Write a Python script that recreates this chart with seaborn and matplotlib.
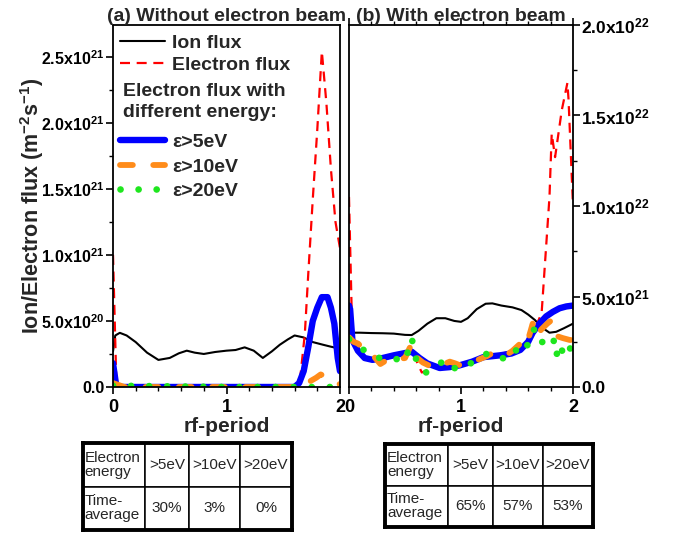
import numpy as np
import matplotlib
matplotlib.use("Agg")
import matplotlib.pyplot as plt
from matplotlib.lines import Line2D
from matplotlib.ticker import MultipleLocator, FixedLocator, FixedFormatter
import seaborn as sns

# (a) without electron beam -- values in units of 1e20 m^-2 s^-1
UNIT_A = 1e20
ion_a_x = [0.0, 0.02, 0.06, 0.12, 0.2, 0.3, 0.4, 0.5, 0.58, 0.65, 0.72, 0.8, 0.9, 1.0,
           1.08, 1.16, 1.24, 1.32, 1.4, 1.47, 1.54, 1.6, 1.68, 1.76, 1.85, 1.92, 2.0]
ion_a = [2.7, 3.9, 4.1, 3.9, 3.4, 2.6, 2.05, 2.2, 2.55, 2.75, 2.6, 2.5, 2.65, 2.75,
         2.8, 3.0, 2.75, 2.2, 2.7, 3.2, 3.6, 3.9, 3.75, 3.4, 3.2, 3.05, 2.9]
el_a_x = [0.0, 0.03, 0.06, 1.6, 1.65, 1.69, 1.72, 1.76, 1.8, 1.84, 1.88, 1.92, 1.96, 2.0]
el_a = [10.0, 0.2, 0.0, 0.0, 0.75, 4.0, 8.5, 14.2, 19.5, 25.4, 21.5, 16.5, 12.5, 10.5]
e5_a_x = [0.0, 0.03, 0.06, 1.6, 1.64, 1.68, 1.72, 1.76, 1.8, 1.84, 1.89, 1.92, 1.95, 1.98, 2.0]
e5_a = [1.8, 0.0, 0.0, 0.0, 0.3, 1.2, 3.0, 5.0, 6.0, 6.8, 6.8, 6.0, 4.8, 2.2, 1.2]
e10_a_x = [0.0, 0.1, 0.2, 1.6, 1.68, 1.74, 1.79, 1.83, 1.9, 2.0]
e10_a = [0.3, 0.0, 0.0, 0.0, 0.2, 0.45, 0.7, 0.95, 0.7, 0.2]
e20_a_x = [0.0, 1.0, 2.0]
e20_a = [0.1, 0.0, 0.0]

# (b) with electron beam -- values in units of 1e21 m^-2 s^-1
UNIT_B = 1e21
ion_b_x = [0.0, 0.1, 0.2, 0.3, 0.4, 0.5, 0.56, 0.62, 0.7, 0.78, 0.86, 0.94, 1.0, 1.06,
           1.14, 1.22, 1.28, 1.36, 1.46, 1.54, 1.6, 1.66, 1.72, 1.79, 1.85, 1.92, 2.0]
ion_b = [3.0, 3.0, 2.98, 2.97, 2.95, 2.88, 2.87, 3.1, 3.5, 3.8, 3.8, 3.65, 3.6, 3.8,
         4.3, 4.6, 4.62, 4.5, 4.4, 4.25, 4.0, 3.7, 3.3, 3.0, 3.05, 3.25, 3.5]
el_b_x = [0.0, 0.03, 0.08, 0.2, 0.35, 0.5, 0.56, 0.65, 0.8, 1.0, 1.2, 1.4, 1.55, 1.66,
          1.72, 1.79, 1.81, 1.84, 1.9, 1.95, 1.96, 2.0]
el_b = [10.5, 2.6, 2.0, 1.5, 1.6, 1.8, 2.0, 0.8, 1.2, 1.2, 1.6, 1.9, 2.2, 3.2,
        4.1, 10.5, 14.0, 12.7, 15.3, 16.8, 15.9, 10.0]
e5_b_x = [0.0, 0.01, 0.03, 0.08, 0.14, 0.21, 0.3, 0.4, 0.48, 0.56, 0.63, 0.7, 0.81, 0.9,
          0.99, 1.1, 1.2, 1.35, 1.45, 1.53, 1.6, 1.64, 1.7, 1.76, 1.82, 1.88, 1.94, 2.0]
e5_b = [4.5, 4.3, 2.6, 2.0, 1.6, 1.5, 1.6, 1.75, 1.85, 1.95, 1.6, 1.3, 1.05, 1.1,
        1.2, 1.4, 1.65, 1.75, 1.85, 2.05, 2.5, 3.0, 3.5, 3.9, 4.15, 4.35, 4.45, 4.5]
e10_b_x = [0.0, 0.04, 0.08, 0.15, 0.22, 0.28, 0.34, 0.39, 0.45, 0.5, 0.56, 0.61, 0.66,
           0.71, 0.76, 0.81, 0.86, 0.9, 0.95, 0.99, 1.05, 1.11, 1.17, 1.23, 1.29, 1.35,
           1.4, 1.46, 1.53, 1.58, 1.64, 1.67, 1.72, 1.77, 1.81, 1.86, 1.91, 1.97, 2.0]
e10_b = [2.75, 2.5, 2.4, 2.0, 1.7, 1.27, 1.5, 1.6, 1.55, 1.6, 2.4, 1.6, 1.35,
         1.2, 1.2, 1.1, 1.3, 1.4, 1.3, 1.2, 1.3, 1.4, 1.55, 1.7, 1.9, 1.8,
         1.75, 2.0, 2.4, 2.2, 3.5, 2.8, 3.2, 3.5, 3.7, 2.8, 2.7, 2.6, 2.6]
e20_b_x = [0.0, 0.08, 0.19, 0.26, 0.34, 0.42, 0.5, 0.56, 0.61, 0.69, 0.78, 0.87, 0.93,
           1.02, 1.14, 1.25, 1.39, 1.47, 1.55, 1.6, 1.65, 1.7, 1.76, 1.82, 1.85, 1.88,
           1.92, 1.96, 2.0]
e20_b = [2.65, 2.3, 1.75, 1.6, 1.7, 1.55, 1.4, 2.7, 1.2, 0.8, 1.2, 1.5, 1.05,
         1.0, 1.55, 1.9, 1.55, 2.1, 1.8, 2.4, 3.2, 2.4, 2.6, 2.85, 1.7, 2.4,
         1.7, 2.2, 2.0]

# tables
energy_cols = [">5eV", ">10eV", ">20eV"]
table_rows = ["Electron\nenergy", "Time-\naverage"]
avg_a = ["30%", "3%", "0%"]
avg_b = ["65%", "57%", "53%"]

# tick labels
yticks_a = [0.0, 5e20, 1e21, 1.5e21, 2e21, 2.5e21]
ylabels_a = ["0.0", "5.0x10$^{20}$", "1.0x10$^{21}$", "1.5x10$^{21}$", "2.0x10$^{21}$", "2.5x10$^{21}$"]
yticks_b = [0.0, 5e21, 1e22, 1.5e22, 2e22]
ylabels_b = ["0.0", "5.0x10$^{21}$", "1.0x10$^{22}$", "1.5x10$^{22}$", "2.0x10$^{22}$"]

sns.set_style("ticks")
plt.rcParams["font.family"] = ["Liberation Sans", "DejaVu Sans"]
plt.rcParams["font.weight"] = "bold"
plt.rcParams["mathtext.fontset"] = "custom"
plt.rcParams["mathtext.rm"] = "Liberation Sans:bold"
plt.rcParams["mathtext.it"] = "Liberation Sans:bold"
plt.rcParams["mathtext.bf"] = "Liberation Sans:bold"
plt.rcParams["axes.edgecolor"] = "black"
plt.rcParams["xtick.color"] = "black"
plt.rcParams["ytick.color"] = "black"

STY = {
    "ion": dict(color="black", lw=1.5, linestyle="-"),
    "el": dict(color="#FF0000", lw=1.6, linestyle=(0, (4.5, 3))),
    "e5": dict(color="#0000FF", lw=4.6, linestyle="-", solid_capstyle="round"),
    "e10": dict(color="#FF8C1A", lw=4.2, linestyle=(0, (2.2, 3.5)), dash_capstyle="round"),
    "e20": dict(color="#1EE61E", lw=4.8, linestyle=(0, (0.01, 2.7)), dash_capstyle="round"),
}

W, H = 678, 534
fig = plt.figure(figsize=(W / 100, H / 100), dpi=100)
ax_a = fig.add_axes([113 / W, 1 - 387 / H, 227 / W, 362 / H])
ax_b = fig.add_axes([349 / W, 1 - 387 / H, 224 / W, 362 / H])


def draw(ax, series, unit):
    for key, xs, ys in series:
        sns.lineplot(x=xs, y=np.array(ys) * unit, ax=ax, estimator=None, sort=False, **STY[key])


draw(ax_a, [("ion", ion_a_x, ion_a), ("el", el_a_x, el_a), ("e5", e5_a_x, e5_a),
            ("e10", e10_a_x, e10_a), ("e20", e20_a_x, e20_a)], UNIT_A)
draw(ax_b, [("ion", ion_b_x, ion_b), ("el", el_b_x, el_b), ("e5", e5_b_x, e5_b),
            ("e10", e10_b_x, e10_b), ("e20", e20_b_x, e20_b)], UNIT_B)

for ax in (ax_a, ax_b):
    ax.set_xlim(0, 2)
    ax.xaxis.set_major_locator(MultipleLocator(1))
    ax.xaxis.set_minor_locator(MultipleLocator(0.2))
    for s in ax.spines.values():
        s.set_linewidth(1.3)
        s.set_visible(True)
    ax.tick_params(which="major", direction="out", length=5, width=1.2, labelsize=13)
    ax.tick_params(which="minor", direction="out", length=3, width=1.0)
    ax.set_xlabel("rf-period", fontsize=15, fontweight="bold", labelpad=1)

ax_a.set_ylim(0, 2.74e21)
ax_a.yaxis.set_major_locator(FixedLocator(yticks_a))
ax_a.yaxis.set_major_formatter(FixedFormatter(ylabels_a))
ax_a.yaxis.set_minor_locator(MultipleLocator(2.5e20))
ax_a.tick_params(axis="y", labelsize=11.5, pad=1)
ax_a.set_ylabel("Ion/Electron flux (m$^{-2}$s$^{-1}$)", fontsize=15.5, fontweight="bold")
ax_a.yaxis.set_label_coords(-0.295, 0.5)
ax_a.set_title("(a) Without electron beam", fontsize=14, fontweight="bold", pad=3)

ax_b.set_ylim(0, 2e22)
ax_b.yaxis.set_major_locator(FixedLocator(yticks_b))
ax_b.yaxis.set_major_formatter(FixedFormatter(ylabels_b))
ax_b.yaxis.set_minor_locator(MultipleLocator(2.5e21))
ax_b.yaxis.tick_right()
ax_b.tick_params(axis="y", which="both", left=False, right=True, labelsize=12.5, pad=1)
ax_b.tick_params(axis="x", which="both", top=True)
ax_b.set_title("(b) With electron beam", fontsize=14, fontweight="bold", pad=3)

# legend in panel (a)
h = {k: Line2D([], [], **v) for k, v in STY.items()}
leg1 = ax_a.legend([h["ion"], h["el"]], ["Ion flux", "Electron flux"], loc="upper left",
                   bbox_to_anchor=(0.03, 0.975), frameon=False, fontsize=14,
                   handlelength=2.3, handletextpad=0.4, labelspacing=0.25,
                   borderpad=0, borderaxespad=0)
ax_a.add_artist(leg1)
ax_a.text(0.045, 0.84, "Electron flux with\ndifferent energy:", transform=ax_a.transAxes,
          fontsize=14, fontweight="bold", va="top", ha="left", linespacing=1.3)
ax_a.legend([h["e5"], h["e10"], h["e20"]], ["ε>5eV", "ε>10eV", "ε>20eV"], loc="upper left",
            bbox_to_anchor=(0.03, 0.70), frameon=False, fontsize=14,
            handlelength=2.3, handletextpad=0.4, labelspacing=0.35,
            borderpad=0, borderaxespad=0)


def draw_table(rect, values, col_px):
    tax = fig.add_axes(rect)
    tax.set_xticks([])
    tax.set_yticks([])
    for s in tax.spines.values():
        s.set_linewidth(2.8)
        s.set_color("black")
    cells = [[table_rows[0]] + energy_cols, [table_rows[1]] + values]
    tb = tax.table(cellText=cells, colWidths=[c / sum(col_px) for c in col_px],
                   bbox=[0, 0, 1, 1], cellLoc="center")
    tb.auto_set_font_size(False)
    tb.set_fontsize(11)
    for (r, c), cell in tb.get_celld().items():
        cell.set_linewidth(1.1)
        t = cell.get_text()
        t.set_fontweight("normal")
        t.set_linespacing(1.0)
        if c == 0:
            t.set_horizontalalignment("left")
            cell.PAD = 0.03
    return tb


draw_table([83 / W, 1 - 530 / H, 209 / W, 87 / H], avg_a, [62, 44, 51, 52])
draw_table([385 / W, 1 - 527 / H, 208 / W, 83 / H], avg_b, [63, 45, 50, 50])

fig.savefig("out.png", dpi=100)
